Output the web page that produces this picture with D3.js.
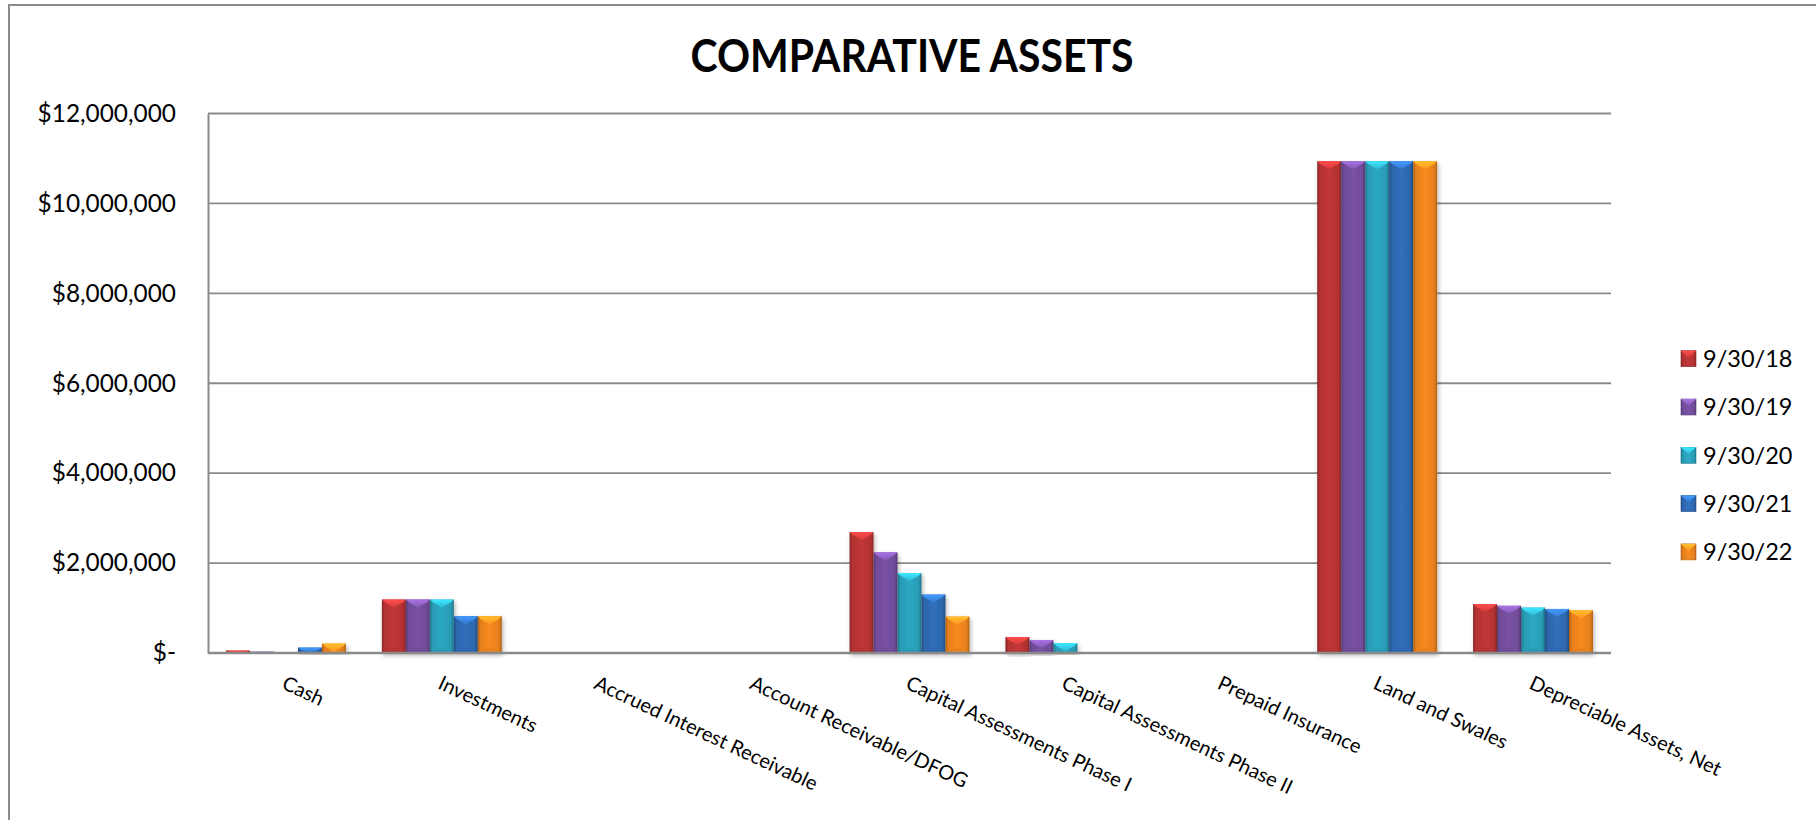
<!DOCTYPE html>
<html>
<head>
<meta charset="utf-8">
<script src="https://cdn.jsdelivr.net/npm/d3@7"></script>
<style>
  html, body { margin: 0; padding: 0; background: #fff; }
  svg { display: block; }
  text { font-family: Lato, "Open Sans", "DejaVu Sans", sans-serif; fill: #000; }
</style>
</head>
<body>
<svg id="chart" width="1816" height="820"></svg>
<script>
// Balance-sheet categories along the x axis
const categories = [
  "Cash",
  "Investments",
  "Accrued Interest Receivable",
  "Account Receivable/DFOG",
  "Capital Assessments Phase I",
  "Capital Assessments Phase II",
  "Prepaid Insurance",
  "Land and Swales",
  "Depreciable Assets, Net"
];

// Fiscal year-end dates (one series each)
const seriesNames = ["9/30/18", "9/30/19", "9/30/20", "9/30/21", "9/30/22"];

// Asset values in dollars, per year-end, in category order
const fy18 = [54000, 1190000, 0, 0, 2690000, 355000, 0, 10940000, 1090000];
const fy19 = [30000, 1190000, 0, 0, 2240000, 290000, 0, 10940000, 1050000];
const fy20 = [10000, 1190000, 0, 0, 1780000, 220000, 0, 10940000, 1010000];
const fy21 = [120000, 820000, 0, 0, 1300000, 0, 0, 10940000, 980000];
const fy22 = [210000, 820000, 0, 0, 810000, 0, 0, 10940000, 950000];

// Y axis tick values
const yTicks = [0, 2000000, 4000000, 6000000, 8000000, 10000000, 12000000];

const seriesValues = [fy18, fy19, fy20, fy21, fy22];
const seriesColors = ["#bd3535", "#7650a0", "#2ba3be", "#2f6cb7", "#f2861f"];

const svg = d3.select("#chart");
const W = 1816, H = 820;
const plot = { left: 208, right: 1611, top: 113.5, bottom: 653 };

svg.append("rect").attr("width", W).attr("height", H).attr("fill", "#fff");

// outer chart border (runs off the right and bottom edges)
svg.append("rect")
  .attr("x", 9).attr("y", 5)
  .attr("width", W + 20).attr("height", H + 20)
  .attr("fill", "none").attr("stroke", "#8a8a8a").attr("stroke-width", 2);

const defs = svg.append("defs");

// soft drop shadow under each bar
const shadow = defs.append("filter").attr("id", "barShadow")
  .attr("x", "-30%").attr("y", "-10%").attr("width", "160%").attr("height", "130%");
shadow.append("feDropShadow")
  .attr("dx", 1.5).attr("dy", 2.5).attr("stdDeviation", 2)
  .attr("flood-color", "#000").attr("flood-opacity", 0.28);

// per-series gradients: rounded sides, lighter top bevel
seriesColors.forEach((c, i) => {
  const base = d3.color(c);
  const side = defs.append("linearGradient").attr("id", "side" + i)
    .attr("x1", "0%").attr("x2", "100%").attr("y1", "0%").attr("y2", "0%");
  side.append("stop").attr("offset", "0%").attr("stop-color", base.darker(0.9));
  side.append("stop").attr("offset", "12%").attr("stop-color", base.darker(0.15));
  side.append("stop").attr("offset", "50%").attr("stop-color", base.brighter(0.08));
  side.append("stop").attr("offset", "88%").attr("stop-color", base.darker(0.15));
  side.append("stop").attr("offset", "100%").attr("stop-color", base.darker(0.9));

  const top = defs.append("linearGradient").attr("id", "top" + i)
    .attr("x1", "0%").attr("x2", "0%").attr("y1", "0%").attr("y2", "100%");
  top.append("stop").attr("offset", "0%").attr("stop-color", base.brighter(1.0));
  top.append("stop").attr("offset", "100%").attr("stop-color", base.brighter(0.35));
});

// scales
const x = d3.scaleBand()
  .domain(categories)
  .range([plot.left, plot.right])
  .paddingInner(0.2308)
  .paddingOuter(0.1154);

const xs = d3.scaleBand()
  .domain(seriesNames)
  .range([0, x.bandwidth()])
  .padding(0);

const y = d3.scaleLinear()
  .domain([0, 12000000])
  .range([plot.bottom, plot.top]);

// horizontal gridlines
svg.append("g").selectAll("line")
  .data(yTicks.filter(d => d > 0))
  .join("line")
  .attr("x1", plot.left).attr("x2", plot.right)
  .attr("y1", d => y(d)).attr("y2", d => y(d))
  .attr("stroke", "#8a8a8a").attr("stroke-width", 1.8);

// y axis with currency labels
const fmt = d3.format("$,");
const yAxis = svg.append("g")
  .attr("transform", `translate(${plot.left},0)`)
  .call(d3.axisLeft(y).tickValues(yTicks).tickSize(0).tickPadding(32)
    .tickFormat(d => d === 0 ? "$-" : fmt(d)));
yAxis.select(".domain").attr("stroke", "#8a8a8a").attr("stroke-width", 2);
yAxis.selectAll("text")
  .style("font-family", "Lato, 'Open Sans', sans-serif")
  .attr("font-size", 24.4).attr("fill", "#000");

// bars
const bevel = 8;
const groups = svg.append("g").selectAll("g")
  .data(seriesNames.map((s, i) => ({ name: s, idx: i, values: seriesValues[i] })))
  .join("g");

groups.each(function (s) {
  const g = d3.select(this);
  s.values.forEach((v, ci) => {
    if (v <= 0) return;
    const bx = x(categories[ci]) + xs(s.name);
    const bw = xs.bandwidth();
    const by = y(v);
    const bh = y(0) - by;
    const bar = g.append("g").attr("filter", "url(#barShadow)");
    bar.append("rect")
      .attr("x", bx).attr("y", by).attr("width", bw).attr("height", bh)
      .attr("fill", `url(#side${s.idx})`);
    const b = Math.min(bevel, bh);
    bar.append("path")
      .attr("d", `M${bx},${by}L${bx + bw},${by}L${bx + bw - 3},${by + b * 0.35}L${bx + bw / 2},${by + b}L${bx + 3},${by + b * 0.35}Z`)
      .attr("fill", `url(#top${s.idx})`);
    if (bh > 20) {
      bar.append("path")
        .attr("d", `M${bx + 3},${y(0)}L${bx + bw / 2},${y(0) - 6}L${bx + bw - 3},${y(0)}Z`)
        .attr("fill", d3.color(seriesColors[s.idx]).darker(0.25))
        .attr("opacity", 0.6);
    }
  });
});

// category axis baseline
svg.append("line")
  .attr("x1", plot.left).attr("x2", plot.right)
  .attr("y1", y(0)).attr("y2", y(0))
  .attr("stroke", "#8a8a8a").attr("stroke-width", 2.5);

// slanted category labels
svg.append("g").selectAll("text")
  .data(categories)
  .join("text")
  .attr("transform", d => `translate(${x(d) + x.bandwidth() / 2 + 1},${plot.bottom + 22}) rotate(25)`)
  .attr("dy", "0.72em")
  .attr("text-anchor", "start")
  .attr("font-size", 20)
  .text(d => d);

// title
svg.append("text")
  .attr("x", 912).attr("y", 72)
  .attr("text-anchor", "middle")
  .attr("font-size", 46).attr("font-weight", 700)
  .attr("textLength", 443).attr("lengthAdjust", "spacingAndGlyphs")
  .text("COMPARATIVE ASSETS");

// legend
const legend = svg.append("g").selectAll("g")
  .data(seriesNames)
  .join("g")
  .attr("transform", (d, i) => `translate(1681,${358.7 + i * 48.3})`);

legend.append("rect")
  .attr("x", 0).attr("y", -8).attr("width", 15).attr("height", 16)
  .attr("fill", (d, i) => `url(#side${i})`)
  .attr("stroke", (d, i) => d3.color(seriesColors[i]).darker(0.8)).attr("stroke-width", 0.6);
legend.append("path")
  .attr("d", "M0,-8L15,-8L7.5,-1Z")
  .attr("fill", (d, i) => `url(#top${i})`);
legend.append("text")
  .attr("x", 22).attr("y", 0).attr("dy", "0.36em")
  .attr("font-size", 23.5)
  .text(d => d);
</script>
</body>
</html>
